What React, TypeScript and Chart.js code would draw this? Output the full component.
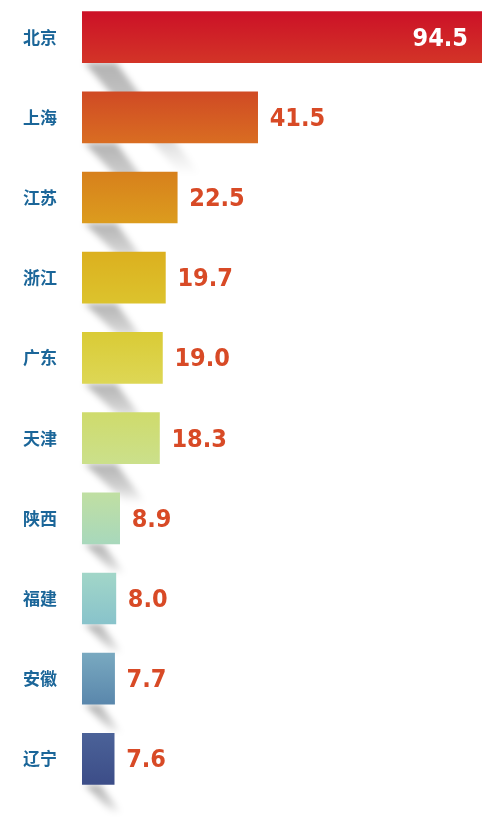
import React, { useEffect, useRef } from 'react';
import { Chart, registerables } from 'chart.js';

Chart.register(...registerables);

const provinces = ['北京', '上海', '江苏', '浙江', '广东', '天津', '陕西', '福建', '安徽', '辽宁'];
const amounts = [94.5, 41.5, 22.5, 19.7, 19.0, 18.3, 8.9, 8.0, 7.7, 7.6];

// bar colours, top -> bottom of each bar
const topColors = ['#cc1127', '#d04a24', '#d7801c', '#dcb01f', '#dacb36', '#cfdb6c', '#c0dfa2', '#a2d6c8', '#79a9c0', '#4b6298'];
const bottomColors = ['#d33427', '#d96d22', '#dc9c1e', '#dcc32d', '#ddd755', '#cbe08b', '#a8d8bc', '#88c3cb', '#5a87ac', '#3c4d88'];

const shadowPlugin = {
   id: 'barShadow',
   beforeDatasetsDraw(chart: any) {
      const ctx = chart.ctx;
      const meta = chart.getDatasetMeta(0);
      const base = chart.scales.x.getPixelForValue(0);
      ctx.save();
      ctx.filter = 'blur(3px)';
      meta.data.forEach((bar: any, i: number) => {
         if (!Number.isFinite(bar.y) || !Number.isFinite(bar.x)) return;
         const half = bar.height / 2;
         const yb = bar.y + half;
         const len = bar.x - base;
         const w = Math.min(32, len * 0.5);
         const L = 22 + amounts[i] * 0.95;
         const dx = L * 0.75;
         const x0 = base + 2;
         const g = ctx.createLinearGradient(0, yb, 0, yb + L);
         g.addColorStop(0, 'rgba(0,0,0,0.3)');
         g.addColorStop(0.6, 'rgba(0,0,0,0.18)');
         g.addColorStop(1, 'rgba(0,0,0,0)');
         ctx.fillStyle = g;
         ctx.beginPath();
         ctx.moveTo(x0, yb);
         ctx.lineTo(x0 + w, yb);
         ctx.lineTo(x0 + w + dx, yb + L);
         ctx.lineTo(x0 + dx + w * 0.4, yb + L);
         ctx.closePath();
         ctx.fill();
      });
      ctx.restore();
   },
};

const valuePlugin = {
   id: 'valueLabels',
   afterDatasetsDraw(chart: any) {
      const ctx = chart.ctx;
      const meta = chart.getDatasetMeta(0);
      ctx.save();
      ctx.font = 'bold 25px "DejaVu Sans Condensed", "DejaVu Sans", sans-serif';
      ctx.textBaseline = 'middle';
      meta.data.forEach((bar: any, i: number) => {
         const txt = amounts[i].toFixed(1);
         if (i === 0) {
            ctx.fillStyle = '#ffffff';
            ctx.textAlign = 'right';
            ctx.fillText(txt, bar.x - 14, bar.y + 2);
         } else {
            ctx.fillStyle = '#d84a26';
            ctx.textAlign = 'left';
            ctx.fillText(txt, bar.x + 12, bar.y + 2);
         }
      });
      ctx.restore();
   },
};

const App = () => {
   const canvasRef = useRef<HTMLCanvasElement | null>(null);

   useEffect(() => {
      if (!canvasRef.current) return;
      const chart = new Chart(canvasRef.current, {
         type: 'bar',
         data: {
            labels: provinces,
            datasets: [
               {
                  data: amounts,
                  barThickness: 51,
                  borderWidth: 0,
                  backgroundColor: (c: any) => {
                     const ch = c.chart;
                     const ys = ch.scales?.y;
                     if (!ys || c.dataIndex === undefined) return topColors[0];
                     const cy = ys.getPixelForValue(c.dataIndex);
                     if (!Number.isFinite(cy)) return topColors[c.dataIndex];
                     const g = ch.ctx.createLinearGradient(0, cy - 25.5, 0, cy + 25.5);
                     g.addColorStop(0, topColors[c.dataIndex]);
                     g.addColorStop(1, bottomColors[c.dataIndex]);
                     return g;
                  },
               },
            ],
         },
         options: {
            indexAxis: 'y',
            responsive: false,
            animation: false,
            layout: { padding: { top: 0, right: 18, bottom: 24, left: 0 } },
            plugins: {
               legend: { display: false },
               tooltip: { enabled: false },
            },
            scales: {
               x: {
                  min: 0,
                  max: 94.5,
                  display: false,
               },
               y: {
                  grid: { display: false, drawTicks: false },
                  border: { display: false },
                  ticks: {
                     color: '#1b6699',
                     padding: 25,
                     font: { family: '"Noto Sans CJK SC", sans-serif', size: 17, weight: 'bold' },
                  },
                  afterFit: (scale: any) => {
                     scale.width = 82;
                     // tick padding would otherwise push the plot down
                     scale.paddingTop = 0;
                     scale.paddingBottom = 0;
                  },
               },
            },
         } as any,
         plugins: [shadowPlugin, valuePlugin],
      });
      return () => {
         chart.destroy();
      };
   }, []);

   return (
      <div style={{ position: 'absolute', left: 0, top: -3, width: 500, height: 826 }}>
         <canvas ref={canvasRef} width='500' height='826' />
      </div>
   );
};

export default App;
